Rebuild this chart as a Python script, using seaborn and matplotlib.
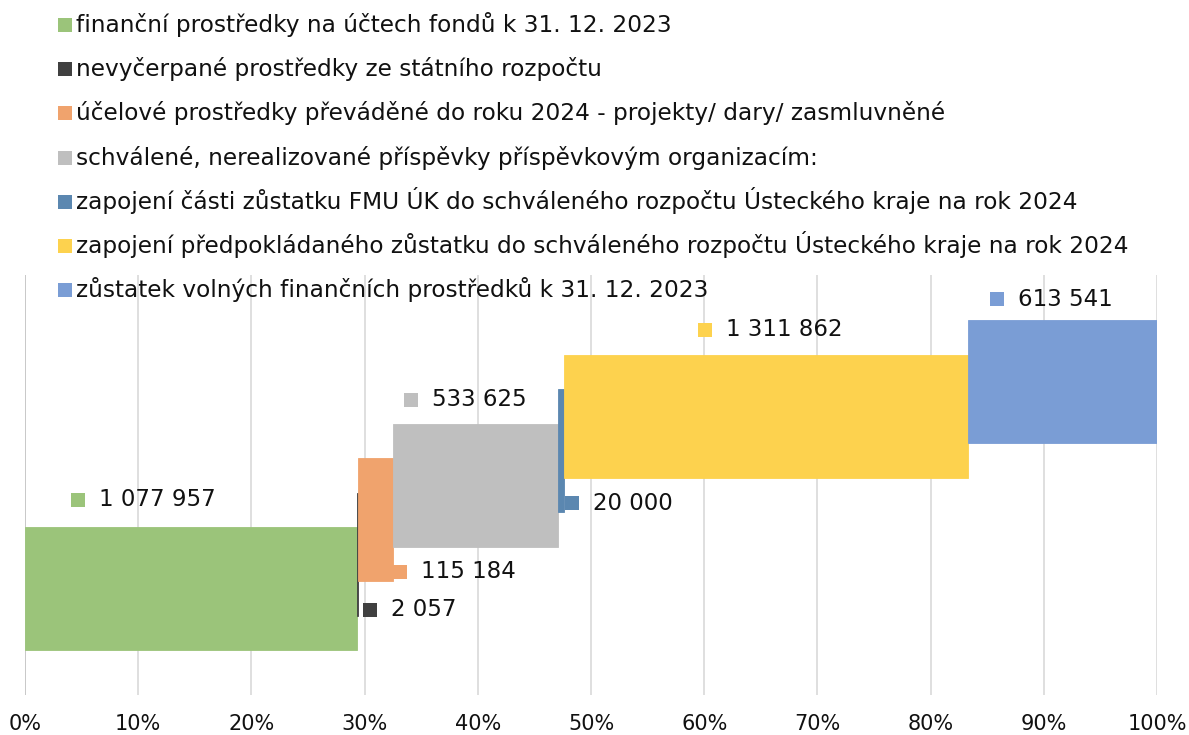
import matplotlib
matplotlib.use("Agg")
import matplotlib.pyplot as plt
from matplotlib.patches import Rectangle
import seaborn as sns
import numpy as np

# ---- data ----
categories = [
    "finanční prostředky na účtech fondů k 31. 12. 2023",
    "nevyčerpané prostředky ze státního rozpočtu",
    "účelové prostředky převáděné do roku 2024 - projekty/ dary/ zasmluvněné",
    "schválené, nerealizované příspěvky příspěvkovým organizacím:",
    "zapojení části zůstatku FMU ÚK do schváleného rozpočtu Ústeckého kraje na rok 2024",
    "zapojení předpokládaného zůstatku do schváleného rozpočtu Ústeckého kraje na rok 2024",
    "zůstatek volných finančních prostředků k 31. 12. 2023",
]
values = [1077957, 2057, 115184, 533625, 20000, 1311862, 613541]
value_labels = ["1 077 957", "2 057", "115 184", "533 625", "20 000", "1 311 862", "613 541"]
colors = ["#9BC47A", "#404040", "#F0A36D", "#BFBFBF", "#5B87B0", "#FDD24E", "#7A9DD5"]
tick_labels = ["0%", "10%", "20%", "30%", "40%", "50%", "60%", "70%", "80%", "90%", "100%"]

# ---- layout ----
sns.set_theme(style="white")
plt.rcParams["font.family"] = ["DejaVu Sans"]

W, H = 1189, 735
fig = plt.figure(figsize=(W / 100, H / 100), dpi=100)
ax = fig.add_axes([25 / W, 1 - 695 / H, (1157 - 25) / W, (695 - 275) / H])

vals = np.array(values, dtype=float)
shares = vals / vals.sum() * 100
lefts = np.concatenate([[0], np.cumsum(shares)[:-1]])

base, step, height = 45.0, 34.5, 123.0
bottoms = base + step * np.arange(len(vals))

ax.bar(lefts, height, width=shares, bottom=bottoms, align="edge",
       color=colors, edgecolor=colors, linewidth=0.6, zorder=2)

# label placement: (anchor x-reference, dx, anchor y-reference, dy)
label_pos = [
    ("left", 4.7, "top", 27),
    ("right", 1.1, "bottom", 6),
    ("right", 0.6, "bottom", 9),
    ("left", 1.6, "top", 24),
    ("right", 0.7, "bottom", 9),
    ("left", 12.5, "top", 25),
    ("left", 2.6, "top", 21),
]
for i, (xr, dx, yr, dy) in enumerate(label_pos):
    x0 = (lefts[i] if xr == "left" else lefts[i] + shares[i]) + dx
    y0 = (bottoms[i] + height if yr == "top" else bottoms[i]) + dy
    ax.plot([x0], [y0], marker="s", markersize=10.3, color=colors[i],
            markeredgewidth=0, zorder=3, clip_on=False)
    ax.annotate(value_labels[i], (x0, y0), xytext=(15, 0), textcoords="offset points",
                ha="left", va="center", fontsize=16.5, color="#111111", zorder=4)

ax.set_xlim(0, 100)
ax.set_ylim(0, 420)
ax.set_xticks(np.arange(0, 101, 10))
ax.set_xticklabels(tick_labels, fontsize=15, color="#111111")
ax.set_yticks([])
ax.tick_params(axis="x", length=0, pad=14)
for s in ax.spines.values():
    s.set_visible(False)
for i, t in enumerate(np.arange(0, 101, 10)):
    ax.axvline(t, color="#BFBFBF" if i == 0 else "#D9D9D9", linewidth=1.2, zorder=1)

# legend: uniform rows, square key sitting on the text baseline
sq = 14
for i, (cat, c) in enumerate(zip(categories, colors)):
    yb = 32 + 44.17 * i
    fig.patches.append(Rectangle((58 / W, 1 - yb / H), sq / W, sq / H,
                                 transform=fig.transFigure, facecolor=c,
                                 edgecolor="none", zorder=5))
    fig.text(76 / W, 1 - yb / H, cat, ha="left", va="baseline",
             fontsize=16.75, color="#111111")

fig.savefig("out.png", dpi=100)
